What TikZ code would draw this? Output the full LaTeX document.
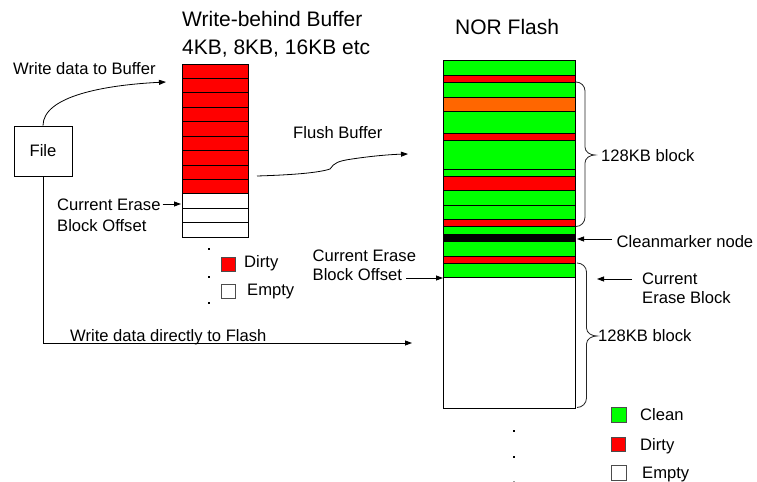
\documentclass[tikz,border=0pt]{standalone}
\usepackage{fontspec}
\setmainfont{Liberation Sans}
\usetikzlibrary{arrows.meta}
\definecolor{clean}{RGB}{0,255,0}
\definecolor{dirty}{RGB}{255,0,0}
\definecolor{obsolete}{RGB}{255,102,0}
\begin{document}
\begin{tikzpicture}[x=1bp,y=-1bp,
  lbl/.style={font=\fontsize{16.6bp}{20bp}\selectfont, inner sep=0pt, anchor=base west},
  ttl/.style={font=\fontsize{21bp}{28bp}\selectfont, inner sep=0pt, anchor=base west},
  arr/.style={-{Triangle[length=7bp,width=5bp]}, line width=0.8bp},
  cell/.style={draw=black, line width=0.8bp},
  brace/.style={draw=black!85, line width=0.8bp},
  dot/.style={fill=black, inner sep=0pt, minimum size=2.8bp, draw=none}]
\useasboundingbox (0,0) rectangle (757,482);

% titles
\node[ttl] (buftitle) at (182,27) {Write-behind Buffer};
\node[ttl] (bufsize) at (182,55) {4KB, 8KB, 16KB etc};
\node[ttl] (flashtitle) at (455,35) {NOR Flash};

% file box
\node[draw=black, line width=0.8bp, minimum width=58bp, minimum height=50bp,
      font=\fontsize{16.6bp}{20bp}\selectfont] (file) at (43,151) {File};

% write-behind buffer: 9 dirty rows, 3 empty rows
\foreach \i in {0,...,11} {
  \pgfmathsetmacro{\t}{64+\i*14.42}
  \pgfmathsetmacro{\b}{64+(\i+1)*14.42}
  \ifnum\i<9
    \draw[cell, fill=dirty] (182,\t) rectangle (248,\b);
  \else
    \draw[cell, fill=white] (182,\t) rectangle (248,\b);
  \fi
}
\coordinate (bufin) at (166,82);
\coordinate (bufoffset) at (181,204);
\coordinate (bufout) at (257,176);

% NOR flash bands
\foreach \t/\b/\c in {60/75/clean, 75/82/dirty, 82/97/clean, 97/111/obsolete,
    111/133/clean, 133/140/dirty, 140/169/clean, 169/176/clean, 176/190/dirty,
    190/205/clean, 205/219/clean, 219/226/dirty, 226/234/clean, 234/241/black,
    241/256/clean, 256/263/dirty, 263/277/clean, 277/408/white}
  \draw[cell, fill=\c] (443,\t) rectangle (575,\b);
\coordinate (flashin) at (408,154);
\coordinate (flashdirect) at (412,343);
\coordinate (flashoffset) at (443,278);
\coordinate (cleanmark) at (577,239);
\coordinate (curblock) at (597,279);

% labels
\node[lbl] (wbuf) at (13,75) {Write data to Buffer};
\node[lbl] (cebo1) at (57,211) {Current Erase};
\node[lbl] (cebo2) at (57,231.5) {Block Offset};
\node[lbl] (flush) at (293,139) {Flush Buffer};
\node[lbl] (direct) at (70,341.5) {Write data directly to Flash};
\node[lbl] (fcebo1) at (312.5,261.5) {Current Erase};
\node[lbl] (fcebo2) at (312.5,281) {Block Offset};
\node[lbl] (cmk) at (616.5,247.3) {Cleanmarker node};
\node[lbl] (ceb1) at (642,285) {Current};
\node[lbl] (ceb2) at (642,303.5) {Erase Block};
\node[lbl] (blk1) at (601,161.5) {128KB block};
\node[lbl] (blk2) at (598,341.5) {128KB block};

% connectors
\draw[arr] (file.north) .. controls (43,96) and (105,85) .. (bufin);
\draw[arr] (file.south) |- (flashdirect);
\draw[arr] (cebo1.east |- bufoffset) ++(2,0) coordinate (bo) -- (bufoffset);
\draw[arr] (bufout) .. controls (290,175) and (318,173) .. (330,169)
   .. controls (334,163) and (338,161) .. (352,159)
   .. controls (372,156) and (390,154.5) .. (flashin);
\draw[arr] (fcebo2.east |- flashoffset) ++(4,0) -- (flashoffset);
\draw[arr] (612,239) coordinate (cmt) -- (cleanmark);
\draw[arr] (632,279) coordinate (cbt) -- (curblock);

% braces
\draw[brace] (576,82) to[out=0,in=90] (585,91) -- (585,147)
  to[out=270,in=180] (595,155) to[out=180,in=90] (585,163) -- (585,217)
  to[out=270,in=0] (576,226.5);
\draw[brace] (577,263) to[out=0,in=90] (586.5,272) -- (586.5,328)
  to[out=270,in=180] (597,336) to[out=180,in=90] (586.5,344) -- (586.5,398)
  to[out=270,in=0] (577,407.5);

% buffer legend
\node[dot] (bd1) at (209,249) {};
\node[dot] (bd2) at (209,277) {};
\node[dot] (bd3) at (209,303) {};
\node[draw=black!70, fill=dirty, minimum size=14bp, inner sep=0pt] (bdirty) at (228,264) {};
\node[draw=black!70, fill=white, minimum size=14bp, inner sep=0pt] (bempty) at (228,291.5) {};
\node[lbl] (bdirtyt) at (244,268) {Dirty};
\node[lbl] (bemptyt) at (247,296) {Empty};

% flash legend
\node[dot] (fd1) at (514,431) {};
\node[dot] (fd2) at (514,457) {};
\node[dot, fill=black!40] (fd3) at (514,482) {};
\node[draw=black!70, fill=clean, minimum size=15bp, inner sep=0pt] (fclean) at (618.5,414.5) {};
\node[draw=black!70, fill=dirty, minimum size=14bp, inner sep=0pt] (fdirty) at (618.5,444) {};
\node[draw=black!70, fill=white, minimum size=15bp, inner sep=0pt] (fempty) at (618.5,472.5) {};
\node[lbl] (fcleant) at (640,420.5) {Clean};
\node[lbl] (fdirtyt) at (640,450) {Dirty};
\node[lbl] (femptyt) at (642,478) {Empty};
\end{tikzpicture}
\end{document}
